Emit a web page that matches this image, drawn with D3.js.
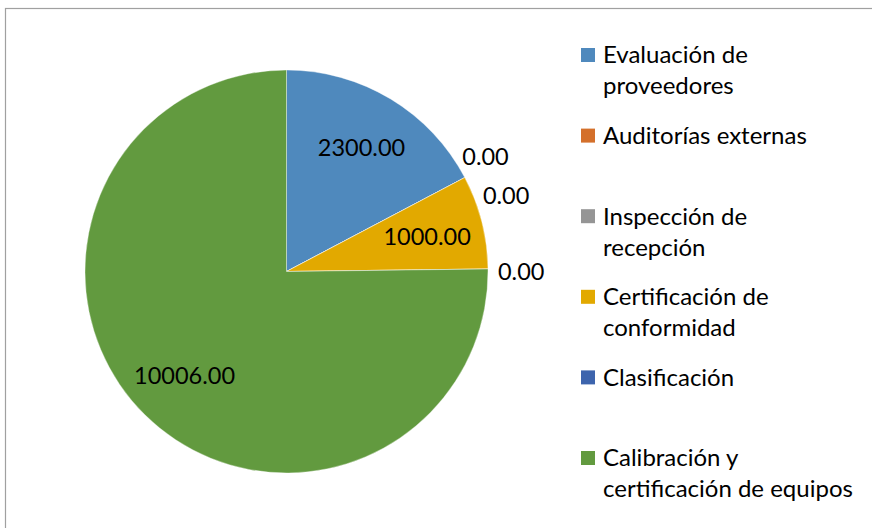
<!DOCTYPE html>
<html>
<head>
<meta charset="utf-8">
<script src="https://cdn.jsdelivr.net/npm/d3@7"></script>
<style>
  body { margin: 0; background: #fff; }
  svg { display: block; font-family: Lato, "Open Sans", sans-serif; }
</style>
</head>
<body>
<div id="chart"></div>
<script>
// data
const categories = ["Evaluación de proveedores", "Auditorías externas", "Inspección de recepción",
  "Certificación de conformidad", "Clasificación", "Calibración y certificación de equipos"];
const legendLines = [["Evaluación de", "proveedores"], ["Auditorías externas"], ["Inspección de", "recepción"],
  ["Certificación de", "conformidad"], ["Clasificación"], ["Calibración y", "certificación de equipos"]];
const values = [2300, 0, 0, 1000, 0, 10006];
const colors = ["#4f89bd", "#d4702b", "#959595", "#e2a900", "#3d64ad", "#629a3f"];

const width = 872, height = 528;
const center = { x: 286.5, y: 271.5 };
const radius = 201.5;

const svg = d3.select('#chart').append('svg')
  .attr('width', width)
  .attr('height', height);

// chart frame (only top and left edges visible)
svg.append('rect')
  .attr('x', 5.5).attr('y', 8.5)
  .attr('width', width + 10).attr('height', height + 10)
  .attr('fill', 'none')
  .attr('stroke', '#a0a0a0')
  .attr('stroke-width', 1.2);

const pieGroup = svg.append('g')
  .attr('transform', `translate(${center.x},${center.y})`);

const pie = d3.pie().sort(null).value(d => d);
const arcs = pie(values);

const arcGen = d3.arc().innerRadius(0).outerRadius(radius);
const labelArc = d3.arc().innerRadius(radius * 0.72).outerRadius(radius * 0.72);

pieGroup.selectAll('path')
  .data(arcs)
  .join('path')
  .attr('d', arcGen)
  .attr('fill', (d, i) => colors[i])
  .attr('stroke', '#ffffff')
  .attr('stroke-width', 0.6)
  .attr('stroke-opacity', 0.6);

// inside labels for non-empty slices
pieGroup.selectAll('text.inner')
  .data(arcs.filter(d => d.value > 0))
  .join('text')
  .attr('class', 'inner')
  .attr('transform', d => `translate(${labelArc.centroid(d)})`)
  .attr('text-anchor', 'middle')
  .attr('dominant-baseline', 'central')
  .style('font-size', '23.5px')
  .attr('fill', '#000')
  .text(d => d3.format('.2f')(d.value));

// empty slices: labels outside, spread when they share an angle
const zeroArcs = arcs.filter(d => d.value === 0);
const angleCount = d3.rollup(zeroArcs, v => v.length, d => d.startAngle.toFixed(4));
const seen = new Map();
const spread = 12 * Math.PI / 180;
const outerR = radius + 10;

pieGroup.selectAll('text.outer')
  .data(zeroArcs)
  .join('text')
  .attr('class', 'outer')
  .attr('transform', d => {
    const key = d.startAngle.toFixed(4);
    const n = angleCount.get(key);
    const k = seen.get(key) || 0;
    seen.set(key, k + 1);
    const a = d.startAngle + (k - (n - 1) / 2) * spread;
    return `translate(${outerR * Math.sin(a)},${-outerR * Math.cos(a) + 2})`;
  })
  .attr('text-anchor', 'start')
  .attr('dominant-baseline', 'central')
  .style('font-size', '23.5px')
  .attr('fill', '#000')
  .text(d => d3.format('.2f')(d.value));

// legend
const legendY = d3.scaleLinear().domain([0, categories.length - 1]).range([55, 458]);
const legend = svg.append('g').attr('id', 'legende');

const legendUnits = legend.selectAll('g')
  .data(categories)
  .join('g')
  .attr('transform', (d, i) => `translate(581,${legendY(i)})`);

legendUnits.append('rect')
  .attr('x', 0).attr('y', -7)
  .attr('width', 14).attr('height', 14)
  .attr('fill', (d, i) => colors[i]);

legendUnits.append('text')
  .attr('x', 22)
  .attr('y', 0)
  .style('font-size', '24px')
  .attr('fill', '#000')
  .selectAll('tspan')
  .data((d, i) => legendLines[i])
  .join('tspan')
  .attr('x', 22)
  .attr('dy', (d, j) => j === 0 ? '0.35em' : '31px')
  .text(d => d);
</script>
</body>
</html>
